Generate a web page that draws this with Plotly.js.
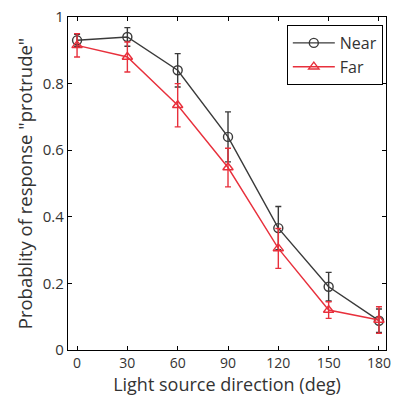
<!DOCTYPE html>
<html>
<head>
<meta charset="utf-8">
<script src="https://cdn.plot.ly/plotly-3.0.1.min.js"></script>
<style>html,body{margin:0;padding:0;background:#fff;}#chart{width:395px;height:396px;}</style>
</head>
<body>
<div id="chart"></div>
<script>
const directions = [0, 30, 60, 90, 120, 150, 180];
const nearValues = [0.93, 0.94, 0.84, 0.64, 0.366, 0.19, 0.088];
const nearErrors = [0.018, 0.028, 0.05, 0.075, 0.065, 0.043, 0.035];
const farValues = [0.915, 0.88, 0.735, 0.548, 0.305, 0.12, 0.09];
const farErrors = [0.035, 0.045, 0.065, 0.058, 0.06, 0.025, 0.04];
const xTicks = [0, 30, 60, 90, 120, 150, 180];
const yTicks = [0, 0.2, 0.4, 0.6, 0.8, 1];
const yTickText = ['0', '0.2', '0.4', '0.6', '0.8', '1'];

const fontFam = 'Open Sans, Noto Sans, sans-serif';
const textColor = '#333';
const nearColor = '#3a3a3a';
const farColor = '#e8303c';

const traces = [
  {
    x: directions, y: nearValues, name: 'Near', type: 'scatter', mode: 'lines+markers',
    line: {color: nearColor, width: 1.4},
    marker: {symbol: 'circle-open', size: 9, color: nearColor, line: {width: 1.4, color: nearColor}},
    error_y: {type: 'data', array: nearErrors, visible: true, color: nearColor, thickness: 1.4, width: 3}
  },
  {
    x: directions, y: farValues, name: 'Far', type: 'scatter', mode: 'lines+markers',
    line: {color: farColor, width: 1.4},
    marker: {symbol: 'triangle-up-open', size: 9, color: farColor, line: {width: 1.4, color: farColor}},
    error_y: {type: 'data', array: farErrors, visible: true, color: farColor, thickness: 1.4, width: 3}
  }
];

const layout = {
  width: 395, height: 396,
  margin: {l: 68, r: 9, t: 17, b: 46},
  paper_bgcolor: '#fff', plot_bgcolor: '#fff',
  font: {family: fontFam, color: textColor, size: 15},
  showlegend: true,
  legend: {
    x: 0.99, y: 0.976, xanchor: 'right', yanchor: 'top',
    bordercolor: '#000', borderwidth: 1, bgcolor: '#fff',
    font: {family: fontFam, size: 16, color: textColor},
    tracegroupgap: 0, itemwidth: 42
  },
  xaxis: {
    range: [-5.4, 184.2], tickvals: xTicks, ticktext: xTicks.map(String),
    ticks: 'inside', ticklen: 4, tickcolor: '#000', mirror: 'ticks',
    showline: true, linecolor: '#000', linewidth: 1.2, showgrid: false, zeroline: false,
    tickfont: {family: fontFam, size: 14, color: textColor},
    automargin: false,
    title: {text: 'Light source direction (deg)', font: {family: fontFam, size: 18, color: textColor}, standoff: 4}
  },
  yaxis: {
    range: [0, 1], tickvals: yTicks, ticktext: yTickText,
    ticks: 'inside', ticklen: 4, tickcolor: '#000', mirror: 'ticks',
    showline: true, linecolor: '#000', linewidth: 1.2, showgrid: false, zeroline: false,
    tickfont: {family: fontFam, size: 15, color: textColor},
    automargin: false,
    title: {text: 'Probablity of response "protrude"', font: {family: fontFam, size: 18.5, color: textColor}, standoff: 5}
  }
};

Plotly.newPlot('chart', traces, layout, {displayModeBar: false, staticPlot: true});
</script>
</body>
</html>
